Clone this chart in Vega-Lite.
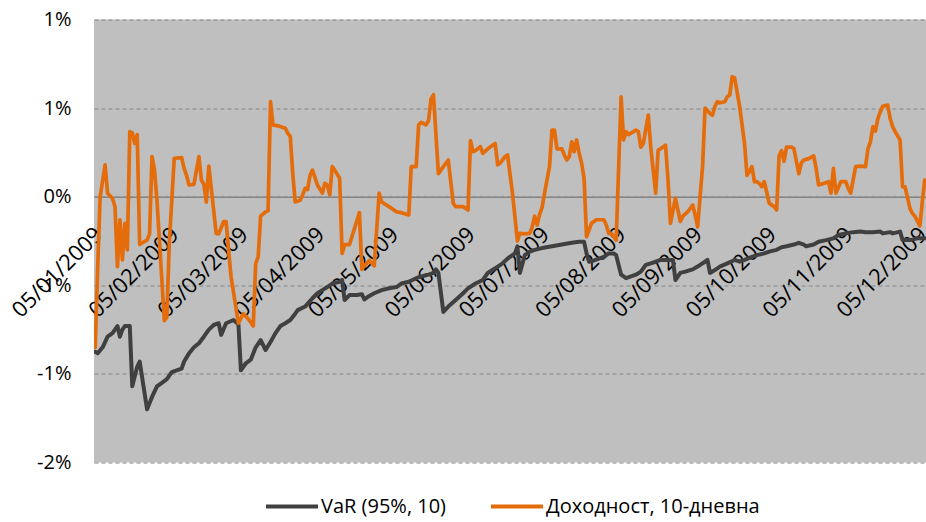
{
"$schema":"https://vega.github.io/schema/vega-lite/v6.json",
"width":832,"height":443,
"autosize":{"type":"none"},
"padding":{"left":94,"top":19.5,"right":0,"bottom":59.5},
"background":"white",
"config":{"view":{"fill":"#BFBFBF","stroke":null},"font":"Open Sans","axis":{"labelFont":"Open Sans","labelFontSize":20,"labelColor":"#000000","title":null}},
"datasets":{
"var":[{"d":"2009-01-05","v":-0.875},{"d":"2009-01-06","v":-0.884},{"d":"2009-01-08","v":-0.85},{"d":"2009-01-10","v":-0.79},{"d":"2009-01-12","v":-0.77},{"d":"2009-01-14","v":-0.73},{"d":"2009-01-15","v":-0.79},{"d":"2009-01-16","v":-0.75},{"d":"2009-01-17","v":-0.73},{"d":"2009-01-19","v":-0.73},{"d":"2009-01-20","v":-1.07},{"d":"2009-01-22","v":-0.96},{"d":"2009-01-23","v":-0.93},{"d":"2009-01-26","v":-1.2},{"d":"2009-01-28","v":-1.13},{"d":"2009-01-30","v":-1.07},{"d":"2009-02-01","v":-1.05},{"d":"2009-02-03","v":-1.03},{"d":"2009-02-05","v":-0.99},{"d":"2009-02-07","v":-0.98},{"d":"2009-02-09","v":-0.97},{"d":"2009-02-10","v":-0.93},{"d":"2009-02-12","v":-0.884},{"d":"2009-02-14","v":-0.85},{"d":"2009-02-16","v":-0.827},{"d":"2009-02-18","v":-0.79},{"d":"2009-02-20","v":-0.75},{"d":"2009-02-22","v":-0.724},{"d":"2009-02-24","v":-0.714},{"d":"2009-02-25","v":-0.78},{"d":"2009-02-27","v":-0.714},{"d":"2009-03-02","v":-0.696},{"d":"2009-03-04","v":-0.72},{"d":"2009-03-05","v":-0.98},{"d":"2009-03-07","v":-0.94},{"d":"2009-03-09","v":-0.92},{"d":"2009-03-11","v":-0.85},{"d":"2009-03-13","v":-0.81},{"d":"2009-03-15","v":-0.865},{"d":"2009-03-17","v":-0.82},{"d":"2009-03-19","v":-0.77},{"d":"2009-03-21","v":-0.73},{"d":"2009-03-23","v":-0.714},{"d":"2009-03-25","v":-0.696},{"d":"2009-03-27","v":-0.66},{"d":"2009-03-28","v":-0.64},{"d":"2009-03-31","v":-0.62},{"d":"2009-04-03","v":-0.573},{"d":"2009-04-05","v":-0.545},{"d":"2009-04-07","v":-0.527},{"d":"2009-04-09","v":-0.51},{"d":"2009-04-11","v":-0.49},{"d":"2009-04-14","v":-0.48},{"d":"2009-04-15","v":-0.47},{"d":"2009-04-16","v":-0.583},{"d":"2009-04-18","v":-0.555},{"d":"2009-04-21","v":-0.555},{"d":"2009-04-23","v":-0.55},{"d":"2009-04-24","v":-0.58},{"d":"2009-04-26","v":-0.56},{"d":"2009-04-28","v":-0.545},{"d":"2009-05-01","v":-0.527},{"d":"2009-05-04","v":-0.517},{"d":"2009-05-07","v":-0.51},{"d":"2009-05-09","v":-0.49},{"d":"2009-05-12","v":-0.48},{"d":"2009-05-15","v":-0.46},{"d":"2009-05-17","v":-0.45},{"d":"2009-05-20","v":-0.44},{"d":"2009-05-22","v":-0.43},{"d":"2009-05-23","v":-0.41},{"d":"2009-05-24","v":-0.43},{"d":"2009-05-26","v":-0.65},{"d":"2009-05-28","v":-0.62},{"d":"2009-05-31","v":-0.583},{"d":"2009-06-03","v":-0.545},{"d":"2009-06-05","v":-0.517},{"d":"2009-06-08","v":-0.49},{"d":"2009-06-11","v":-0.47},{"d":"2009-06-13","v":-0.43},{"d":"2009-06-16","v":-0.404},{"d":"2009-06-19","v":-0.376},{"d":"2009-06-21","v":-0.35},{"d":"2009-06-22","v":-0.34},{"d":"2009-06-24","v":-0.32},{"d":"2009-06-25","v":-0.28},{"d":"2009-06-26","v":-0.43},{"d":"2009-06-28","v":-0.33},{"d":"2009-06-30","v":-0.31},{"d":"2009-07-02","v":-0.3},{"d":"2009-07-05","v":-0.29},{"d":"2009-07-09","v":-0.28},{"d":"2009-07-13","v":-0.27},{"d":"2009-07-17","v":-0.26},{"d":"2009-07-20","v":-0.254},{"d":"2009-07-22","v":-0.254},{"d":"2009-07-23","v":-0.32},{"d":"2009-07-24","v":-0.367},{"d":"2009-07-26","v":-0.36},{"d":"2009-07-28","v":-0.35},{"d":"2009-07-30","v":-0.34},{"d":"2009-08-01","v":-0.32},{"d":"2009-08-03","v":-0.32},{"d":"2009-08-04","v":-0.33},{"d":"2009-08-06","v":-0.44},{"d":"2009-08-08","v":-0.46},{"d":"2009-08-10","v":-0.45},{"d":"2009-08-12","v":-0.44},{"d":"2009-08-14","v":-0.423},{"d":"2009-08-15","v":-0.404},{"d":"2009-08-16","v":-0.385},{"d":"2009-08-18","v":-0.376},{"d":"2009-08-20","v":-0.367},{"d":"2009-08-22","v":-0.357},{"d":"2009-08-25","v":-0.357},{"d":"2009-08-27","v":-0.357},{"d":"2009-08-28","v":-0.47},{"d":"2009-08-30","v":-0.43},{"d":"2009-09-01","v":-0.423},{"d":"2009-09-04","v":-0.41},{"d":"2009-09-07","v":-0.385},{"d":"2009-09-09","v":-0.367},{"d":"2009-09-10","v":-0.357},{"d":"2009-09-11","v":-0.43},{"d":"2009-09-13","v":-0.414},{"d":"2009-09-15","v":-0.395},{"d":"2009-09-18","v":-0.376},{"d":"2009-09-21","v":-0.357},{"d":"2009-09-23","v":-0.367},{"d":"2009-09-25","v":-0.357},{"d":"2009-09-28","v":-0.34},{"d":"2009-09-30","v":-0.33},{"d":"2009-10-03","v":-0.32},{"d":"2009-10-05","v":-0.31},{"d":"2009-10-08","v":-0.3},{"d":"2009-10-10","v":-0.285},{"d":"2009-10-12","v":-0.28},{"d":"2009-10-15","v":-0.27},{"d":"2009-10-17","v":-0.26},{"d":"2009-10-19","v":-0.27},{"d":"2009-10-20","v":-0.28},{"d":"2009-10-23","v":-0.27},{"d":"2009-10-25","v":-0.254},{"d":"2009-10-28","v":-0.245},{"d":"2009-10-31","v":-0.235},{"d":"2009-11-02","v":-0.216},{"d":"2009-11-05","v":-0.207},{"d":"2009-11-08","v":-0.2},{"d":"2009-11-11","v":-0.197},{"d":"2009-11-13","v":-0.2},{"d":"2009-11-16","v":-0.2},{"d":"2009-11-19","v":-0.197},{"d":"2009-11-20","v":-0.207},{"d":"2009-11-23","v":-0.2},{"d":"2009-11-24","v":-0.207},{"d":"2009-11-27","v":-0.197},{"d":"2009-11-28","v":-0.245},{"d":"2009-12-01","v":-0.245},{"d":"2009-12-04","v":-0.235},{"d":"2009-12-06","v":-0.235},{"d":"2009-12-07","v":-0.235}],
"ret":[{"d":"2009-01-05","v":-0.85},{"d":"2009-01-06","v":-0.395},{"d":"2009-01-07","v":0.0},{"d":"2009-01-09","v":0.18},{"d":"2009-01-10","v":0.02},{"d":"2009-01-12","v":-0.01},{"d":"2009-01-13","v":-0.056},{"d":"2009-01-14","v":-0.395},{"d":"2009-01-15","v":-0.13},{"d":"2009-01-16","v":-0.357},{"d":"2009-01-17","v":-0.15},{"d":"2009-01-18","v":-0.3},{"d":"2009-01-19","v":0.367},{"d":"2009-01-20","v":0.36},{"d":"2009-01-21","v":0.3},{"d":"2009-01-22","v":0.35},{"d":"2009-01-23","v":-0.27},{"d":"2009-01-24","v":-0.26},{"d":"2009-01-26","v":-0.245},{"d":"2009-01-27","v":-0.21},{"d":"2009-01-28","v":0.226},{"d":"2009-01-29","v":0.15},{"d":"2009-01-30","v":-0.02},{"d":"2009-02-02","v":-0.7},{"d":"2009-02-03","v":-0.68},{"d":"2009-02-04","v":-0.26},{"d":"2009-02-06","v":0.217},{"d":"2009-02-09","v":0.22},{"d":"2009-02-10","v":0.16},{"d":"2009-02-11","v":0.12},{"d":"2009-02-12","v":0.066},{"d":"2009-02-14","v":0.07},{"d":"2009-02-16","v":0.226},{"d":"2009-02-17","v":0.094},{"d":"2009-02-18","v":0.07},{"d":"2009-02-19","v":-0.03},{"d":"2009-02-20","v":0.173},{"d":"2009-02-23","v":-0.207},{"d":"2009-02-24","v":-0.21},{"d":"2009-02-26","v":-0.14},{"d":"2009-02-27","v":-0.14},{"d":"2009-02-28","v":-0.3},{"d":"2009-03-01","v":-0.45},{"d":"2009-03-04","v":-0.714},{"d":"2009-03-05","v":-0.686},{"d":"2009-03-06","v":-0.66},{"d":"2009-03-08","v":-0.69},{"d":"2009-03-10","v":-0.73},{"d":"2009-03-11","v":-0.376},{"d":"2009-03-12","v":-0.34},{"d":"2009-03-13","v":-0.11},{"d":"2009-03-15","v":-0.085},{"d":"2009-03-16","v":-0.08},{"d":"2009-03-17","v":0.536},{"d":"2009-03-18","v":0.405},{"d":"2009-03-20","v":0.4},{"d":"2009-03-23","v":0.386},{"d":"2009-03-24","v":0.358},{"d":"2009-03-25","v":0.34},{"d":"2009-03-26","v":0.13},{"d":"2009-03-27","v":-0.03},{"d":"2009-03-29","v":-0.02},{"d":"2009-03-30","v":0.01},{"d":"2009-03-31","v":0.047},{"d":"2009-04-01","v":0.04},{"d":"2009-04-02","v":0.12},{"d":"2009-04-03","v":0.15},{"d":"2009-04-05","v":0.066},{"d":"2009-04-07","v":0.02},{"d":"2009-04-08","v":0.075},{"d":"2009-04-09","v":0.066},{"d":"2009-04-10","v":0.01},{"d":"2009-04-11","v":0.17},{"d":"2009-04-12","v":0.15},{"d":"2009-04-14","v":0.104},{"d":"2009-04-15","v":-0.32},{"d":"2009-04-16","v":-0.27},{"d":"2009-04-18","v":-0.27},{"d":"2009-04-22","v":-0.09},{"d":"2009-04-23","v":-0.41},{"d":"2009-04-24","v":-0.39},{"d":"2009-04-26","v":-0.36},{"d":"2009-04-28","v":-0.39},{"d":"2009-04-30","v":0.02},{"d":"2009-05-01","v":-0.03},{"d":"2009-05-04","v":-0.056},{"d":"2009-05-07","v":-0.085},{"d":"2009-05-09","v":-0.09},{"d":"2009-05-12","v":-0.103},{"d":"2009-05-13","v":0.17},{"d":"2009-05-15","v":0.17},{"d":"2009-05-16","v":0.405},{"d":"2009-05-17","v":0.42},{"d":"2009-05-19","v":0.405},{"d":"2009-05-20","v":0.43},{"d":"2009-05-21","v":0.55},{"d":"2009-05-22","v":0.575},{"d":"2009-05-24","v":0.13},{"d":"2009-05-26","v":0.17},{"d":"2009-05-28","v":0.207},{"d":"2009-05-30","v":-0.037},{"d":"2009-05-31","v":-0.056},{"d":"2009-06-03","v":-0.056},{"d":"2009-06-05","v":-0.075},{"d":"2009-06-06","v":0.316},{"d":"2009-06-07","v":0.254},{"d":"2009-06-08","v":0.26},{"d":"2009-06-10","v":0.282},{"d":"2009-06-11","v":0.245},{"d":"2009-06-13","v":0.27},{"d":"2009-06-15","v":0.29},{"d":"2009-06-16","v":0.3},{"d":"2009-06-17","v":0.18},{"d":"2009-06-18","v":0.19},{"d":"2009-06-20","v":0.226},{"d":"2009-06-21","v":0.235},{"d":"2009-06-23","v":0.02},{"d":"2009-06-25","v":-0.25},{"d":"2009-06-26","v":-0.207},{"d":"2009-06-28","v":-0.21},{"d":"2009-06-30","v":-0.207},{"d":"2009-07-01","v":-0.17},{"d":"2009-07-02","v":-0.11},{"d":"2009-07-03","v":-0.16},{"d":"2009-07-04","v":-0.1},{"d":"2009-07-05","v":-0.06},{"d":"2009-07-06","v":0.02},{"d":"2009-07-08","v":0.17},{"d":"2009-07-09","v":0.376},{"d":"2009-07-10","v":0.376},{"d":"2009-07-11","v":0.27},{"d":"2009-07-13","v":0.27},{"d":"2009-07-14","v":0.235},{"d":"2009-07-15","v":0.207},{"d":"2009-07-16","v":0.226},{"d":"2009-07-17","v":0.31},{"d":"2009-07-18","v":0.254},{"d":"2009-07-19","v":0.32},{"d":"2009-07-20","v":0.245},{"d":"2009-07-21","v":0.19},{"d":"2009-07-22","v":0.104},{"d":"2009-07-23","v":-0.226},{"d":"2009-07-25","v":-0.15},{"d":"2009-07-27","v":-0.13},{"d":"2009-07-29","v":-0.13},{"d":"2009-07-30","v":-0.13},{"d":"2009-07-31","v":-0.16},{"d":"2009-08-01","v":-0.207},{"d":"2009-08-02","v":-0.207},{"d":"2009-08-04","v":-0.245},{"d":"2009-08-06","v":0.564},{"d":"2009-08-07","v":0.32},{"d":"2009-08-08","v":0.367},{"d":"2009-08-09","v":0.35},{"d":"2009-08-11","v":0.367},{"d":"2009-08-12","v":0.376},{"d":"2009-08-13","v":0.367},{"d":"2009-08-14","v":0.28},{"d":"2009-08-15","v":0.3},{"d":"2009-08-17","v":0.46},{"d":"2009-08-18","v":0.28},{"d":"2009-08-20","v":0.02},{"d":"2009-08-21","v":0.263},{"d":"2009-08-22","v":0.27},{"d":"2009-08-24","v":0.29},{"d":"2009-08-25","v":0.094},{"d":"2009-08-26","v":-0.15},{"d":"2009-08-28","v":-0.01},{"d":"2009-08-30","v":-0.14},{"d":"2009-08-31","v":-0.11},{"d":"2009-09-02","v":-0.085},{"d":"2009-09-04","v":-0.047},{"d":"2009-09-05","v":-0.103},{"d":"2009-09-06","v":-0.17},{"d":"2009-09-08","v":0.17},{"d":"2009-09-09","v":0.5},{"d":"2009-09-11","v":0.47},{"d":"2009-09-12","v":0.46},{"d":"2009-09-13","v":0.51},{"d":"2009-09-14","v":0.536},{"d":"2009-09-15","v":0.53},{"d":"2009-09-17","v":0.536},{"d":"2009-09-18","v":0.564},{"d":"2009-09-19","v":0.574},{"d":"2009-09-20","v":0.677},{"d":"2009-09-21","v":0.67},{"d":"2009-09-23","v":0.51},{"d":"2009-09-25","v":0.3},{"d":"2009-09-26","v":0.12},{"d":"2009-09-28","v":0.17},{"d":"2009-09-29","v":0.085},{"d":"2009-09-30","v":0.085},{"d":"2009-10-01","v":0.075},{"d":"2009-10-02","v":0.056},{"d":"2009-10-03","v":0.085},{"d":"2009-10-05","v":-0.037},{"d":"2009-10-07","v":-0.056},{"d":"2009-10-08","v":-0.075},{"d":"2009-10-09","v":0.23},{"d":"2009-10-10","v":0.26},{"d":"2009-10-11","v":0.2},{"d":"2009-10-12","v":0.28},{"d":"2009-10-14","v":0.28},{"d":"2009-10-15","v":0.27},{"d":"2009-10-17","v":0.13},{"d":"2009-10-18","v":0.19},{"d":"2009-10-19","v":0.207},{"d":"2009-10-21","v":0.215},{"d":"2009-10-23","v":0.23},{"d":"2009-10-24","v":0.16},{"d":"2009-10-25","v":0.066},{"d":"2009-10-27","v":0.075},{"d":"2009-10-29","v":0.085},{"d":"2009-10-30","v":0.02},{"d":"2009-10-31","v":0.16},{"d":"2009-11-01","v":0.02},{"d":"2009-11-03","v":0.085},{"d":"2009-11-05","v":0.085},{"d":"2009-11-06","v":0.047},{"d":"2009-11-07","v":0.02},{"d":"2009-11-09","v":0.17},{"d":"2009-11-11","v":0.173},{"d":"2009-11-13","v":0.17},{"d":"2009-11-14","v":0.27},{"d":"2009-11-15","v":0.31},{"d":"2009-11-16","v":0.395},{"d":"2009-11-17","v":0.37},{"d":"2009-11-18","v":0.44},{"d":"2009-11-19","v":0.48},{"d":"2009-11-20","v":0.51},{"d":"2009-11-22","v":0.517},{"d":"2009-11-23","v":0.44},{"d":"2009-11-24","v":0.395},{"d":"2009-11-25","v":0.367},{"d":"2009-11-27","v":0.32},{"d":"2009-11-28","v":0.056},{"d":"2009-11-29","v":0.056},{"d":"2009-12-01","v":-0.066},{"d":"2009-12-02","v":-0.094},{"d":"2009-12-03","v":-0.11},{"d":"2009-12-05","v":-0.165},{"d":"2009-12-06","v":-0.03},{"d":"2009-12-07","v":0.094}]
},
"encoding":{
"x":{"field":"d","type":"temporal","scale":{"domain":[{"year":2009,"month":1,"date":4,"hours":12},{"year":2009,"month":12,"date":7,"hours":12}]},
"axis":{"values":[{"year":2009,"month":1,"date":5},{"year":2009,"month":2,"date":5},{"year":2009,"month":3,"date":5},{"year":2009,"month":4,"date":5},{"year":2009,"month":5,"date":5},{"year":2009,"month":6,"date":5},{"year":2009,"month":7,"date":5},{"year":2009,"month":8,"date":5},{"year":2009,"month":9,"date":5},{"year":2009,"month":10,"date":5},{"year":2009,"month":11,"date":5},{"year":2009,"month":12,"date":5}],
"format":"%d/%m/%Y","labelFontSize":22,"labelAngle":-45,"labelAlign":"right","labelBaseline":"middle","labelPadding":34,"labelOffset":3,"ticks":false,"domain":true,"domainColor":"#868686","domainWidth":1.5,"offset":-265.8,"grid":false,"labelOverlap":false,"labelFlush":false,"labelBound":false}},
"y":{"field":"v","type":"quantitative","scale":{"domain":[-1.5,1],"nice":false,"zero":false},
"axis":{"values":[-1.5,-1,-0.5,0,0.5,1],"labelExpr":"(datum.value > 0 ? ceil(datum.value) : datum.value < 0 ? '-' + ceil(-datum.value) : '0') + '%'","ticks":false,"domain":false,"grid":true,"gridColor":"#868686","gridDash":[4,3],"gridWidth":1,"labelPadding":23}}
},
"layer":[
{"data":{"name":"var"},"mark":{"type":"line","strokeWidth":4,"strokeJoin":"round","strokeCap":"round","clip":true},
"encoding":{"color":{"datum":"VaR (95%, 10)","type":"nominal","scale":{"domain":["VaR (95%, 10)","Доходност, 10-дневна"],"range":["#404040","#E46C0A"]},
"legend":{"orient":"none","legendX":170,"legendY":459,"direction":"horizontal","title":null,"symbolType":"stroke","symbolSize":2704,"symbolStrokeWidth":4,"labelFontSize":20,"labelFont":"Open Sans","labelColor":"#000000","labelLimit":400,"columnPadding":36,"labelOffset":1}}}},
{"data":{"name":"ret"},"mark":{"type":"line","strokeWidth":3.7,"strokeJoin":"round","strokeCap":"round","clip":true},
"encoding":{"color":{"datum":"Доходност, 10-дневна","type":"nominal"}}}
]
}
